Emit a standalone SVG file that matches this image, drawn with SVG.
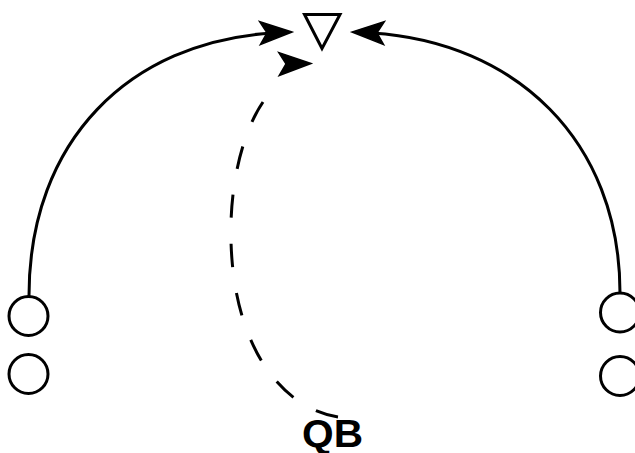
<svg xmlns="http://www.w3.org/2000/svg" xmlns:xlink="http://www.w3.org/1999/xlink" width="635" height="453" viewBox="0 0 635 453">
  <style>
    .node { fill: #ffffff; stroke: #000000; stroke-width: 3; }
    .edge { fill: none; stroke: #000000; stroke-width: 3; }
    .dashed { stroke-dasharray: 6.27 7.12; }
    .head { fill: #000000; stroke: #000000; stroke-width: 1.5; stroke-linejoin: miter; }
    .label { font-family: "Liberation Sans", Arial, sans-serif; font-weight: bold; font-size: 38px; fill: #000000; }
  </style>
  <defs>
    <path id="arrowhead" class="head" d="M0,0 L-32,-11.5 L-25,0 L-32,11.5 Z"/>
  </defs>
  <rect width="635" height="453" fill="#ffffff"/>

  <g id="connectors">
    <path class="edge" d="M 29 296 C 29 140, 130 42, 272 33"/>
    <use xlink:href="#arrowhead" href="#arrowhead" transform="translate(292,32) rotate(-2)"/>
    <path class="edge" d="M 620 293 C 620 140, 515 42, 372 33"/>
    <use xlink:href="#arrowhead" href="#arrowhead" transform="translate(352,32) rotate(182)"/>
    <path class="edge dashed" pathLength="100" d="M 338 417 C 290 410, 240 360, 232 260 C 226 185, 245 128, 263 102"/>
    <use xlink:href="#arrowhead" href="#arrowhead" transform="translate(311,63.5) rotate(-1)"/>
  </g>

  <g id="triangle">
    <polygon class="node" points="304.5,14.5 340,14.5 322,48.5"/>
  </g>
  <g id="left-top-circle">
    <circle class="node" cx="28.5" cy="316" r="19.5"/>
  </g>
  <g id="left-bottom-circle">
    <circle class="node" cx="28.5" cy="374" r="19.5"/>
  </g>
  <g id="right-top-circle">
    <circle class="node" cx="620" cy="312.5" r="19.5"/>
  </g>
  <g id="right-bottom-circle">
    <circle class="node" cx="620" cy="376" r="19.5"/>
  </g>
  <g id="label-qb">
    <text class="label" x="302" y="447" textLength="61" lengthAdjust="spacingAndGlyphs">QB</text>
  </g>
</svg>
